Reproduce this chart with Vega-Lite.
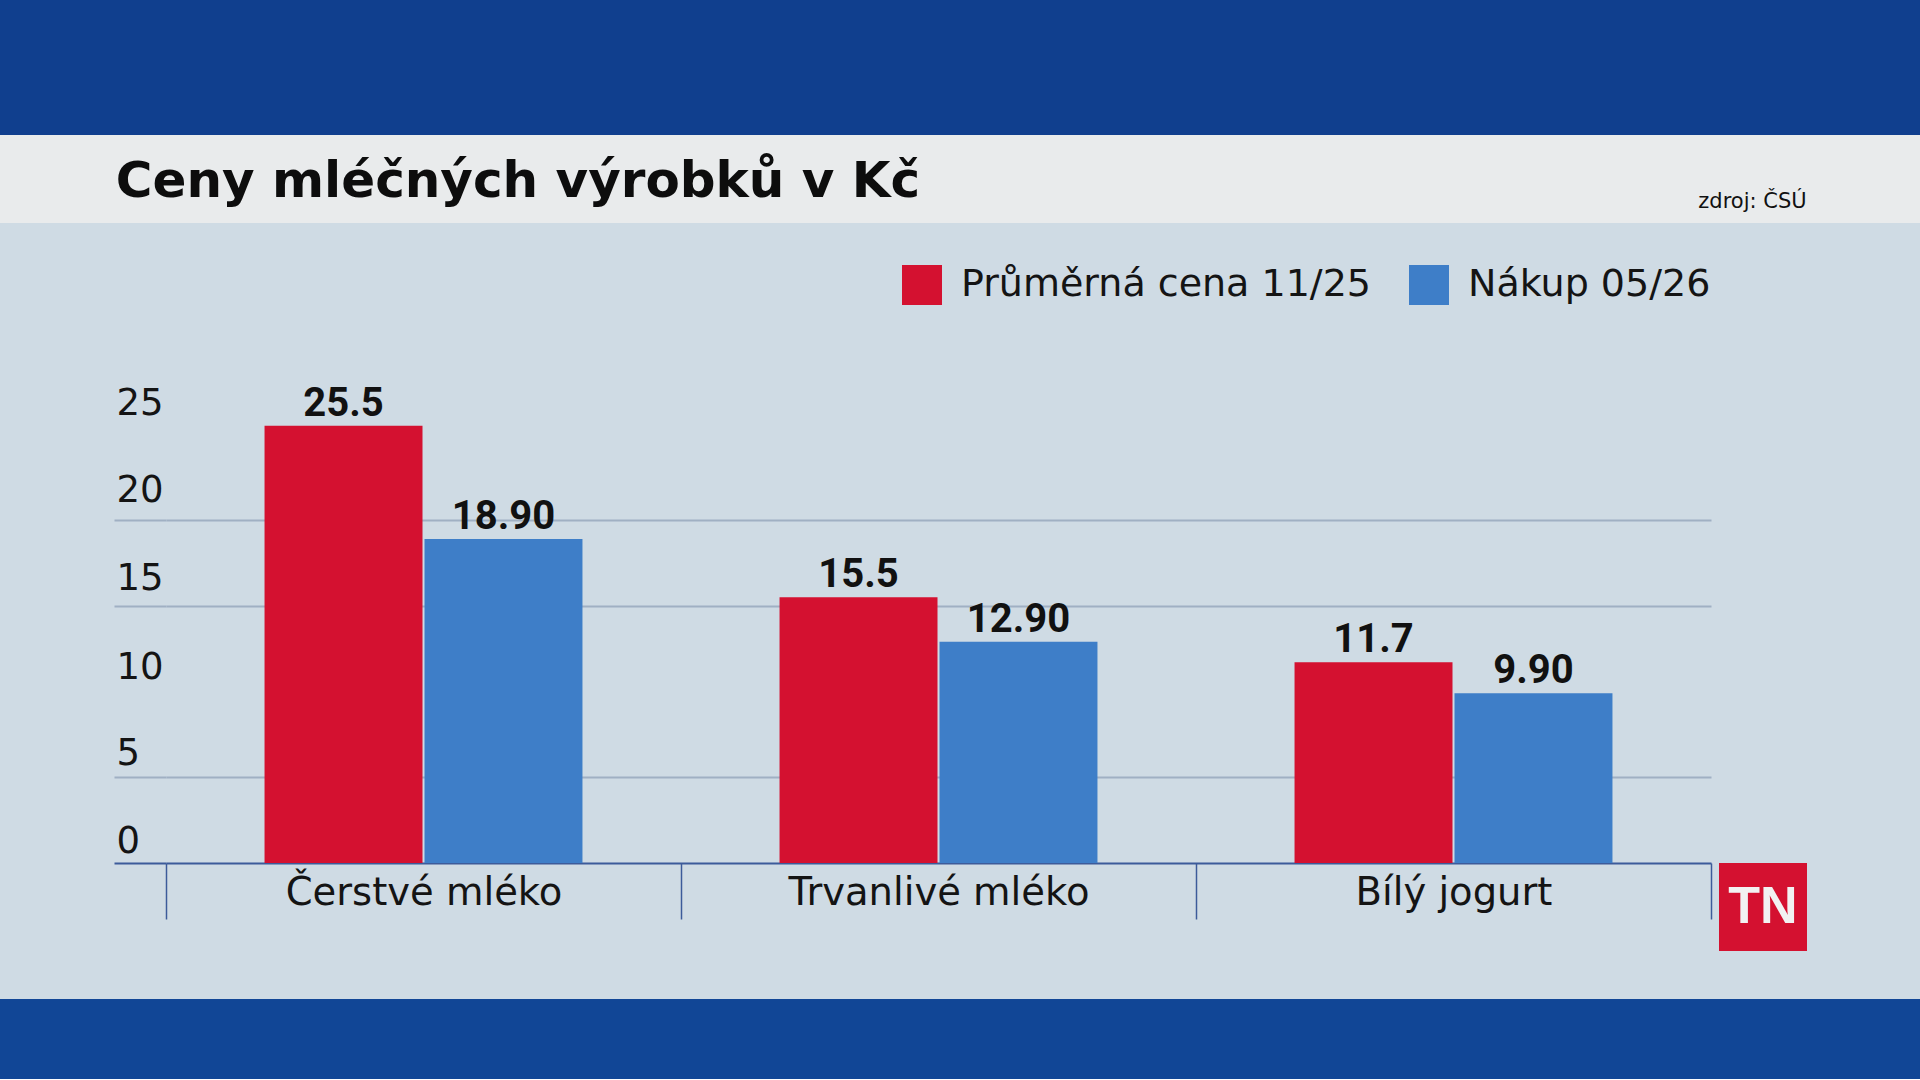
{
  "$schema": "https://vega.github.io/schema/vega-lite/v6.json",
  "background": "#cfdbe4",
  "padding": 0,
  "spacing": 0,
  "config": {
    "view": {"stroke": null},
    "concat": {"spacing": 0},
    "font": "DejaVu Sans"
  },
  "datasets": {
    "prices": [
      {"produkt": "Čerstvé mléko", "rada": "Průměrná cena 11/25", "cena": 25.5},
      {"produkt": "Čerstvé mléko", "rada": "Nákup 05/26", "cena": 18.9},
      {"produkt": "Trvanlivé mléko", "rada": "Průměrná cena 11/25", "cena": 15.5},
      {"produkt": "Trvanlivé mléko", "rada": "Nákup 05/26", "cena": 12.9},
      {"produkt": "Bílý jogurt", "rada": "Průměrná cena 11/25", "cena": 11.7},
      {"produkt": "Bílý jogurt", "rada": "Nákup 05/26", "cena": 9.9}
    ],
    "titles": [{"nadpis": "Ceny mléčných výrobků v Kč", "zdroj": "zdroj: ČSÚ", "logo": "TN"}],
    "blank": [{}]
  },
  "resolve": {"scale": {"color": "independent"}, "legend": {"color": "independent"}},
  "vconcat": [
    {
      "width": 1920, "height": 135,
      "view": {"fill": "#103f8e", "stroke": null},
      "data": {"name": "blank"},
      "mark": {"type": "text", "text": ""}
    },
    {
      "spacing": 0,
      "hconcat": [
        {
          "width": 1036, "height": 88,
          "view": {"fill": "#e9ebec", "stroke": null},
          "data": {"name": "titles"},
          "mark": {"type": "text", "font": "DejaVu Sans", "fontWeight": "bold", "fontSize": 50, "align": "center", "baseline": "alphabetic", "dy": 18, "color": "#0d0d0d"},
          "encoding": {"text": {"field": "nadpis"}}
        },
        {
          "width": 662, "height": 88,
          "view": {"fill": "#e9ebec", "stroke": null},
          "data": {"name": "blank"},
          "mark": {"type": "text", "text": ""}
        },
        {
          "width": 109, "height": 88,
          "view": {"fill": "#e9ebec", "stroke": null},
          "data": {"name": "titles"},
          "mark": {"type": "text", "font": "DejaVu Sans", "fontSize": 21, "align": "center", "baseline": "alphabetic", "dy": 29, "color": "#111111"},
          "encoding": {"text": {"field": "zdroj"}}
        },
        {
          "width": 113, "height": 88,
          "view": {"fill": "#e9ebec", "stroke": null},
          "data": {"name": "blank"},
          "mark": {"type": "text", "text": ""}
        }
      ]
    },
    {
      "spacing": 0,
      "resolve": {"scale": {"color": "independent"}, "legend": {"color": "independent"}},
      "hconcat": [
        {
          "width": 113, "height": 770,
          "data": {"name": "blank"},
          "mark": {"type": "text", "text": ""}
        },
        {
          "spacing": 0,
          "resolve": {"scale": {"color": "independent"}, "legend": {"color": "independent"}},
          "vconcat": [
            {
              "width": 1, "height": 36,
              "data": {"name": "blank"},
              "mark": {"type": "text", "text": ""}
            },
            {
              "width": 1545, "height": 598,
              "data": {"name": "prices"},
              "encoding": {
                "x": {
                  "field": "produkt", "type": "nominal",
                  "sort": ["Čerstvé mléko", "Trvanlivé mléko", "Bílý jogurt"],
                  "scale": {"paddingInner": 0, "paddingOuter": 0},
                  "axis": {
                    "title": null, "domain": false, "grid": false, "tickBand": "extent",
                    "ticks": true, "tickSize": 56, "tickWidth": 1.5, "tickColor": "#3c5b9a",
                    "labelAngle": 0, "labelFont": "DejaVu Sans", "labelFontSize": 38.5, "labelColor": "#141414",
                    "labelBaseline": "alphabetic", "labelPadding": -15, "labelLimit": 0
                  }
                },
                "xOffset": {
                  "field": "rada", "type": "nominal",
                  "sort": ["Průměrná cena 11/25", "Nákup 05/26"],
                  "scale": {"paddingInner": 0.0125, "paddingOuter": 0.616}
                },
                "y": {
                  "field": "cena", "type": "quantitative",
                  "scale": {"domain": [0, 34.87], "nice": false, "zero": true},
                  "axis": {
                    "title": null, "domain": false,
                    "values": [0, 5, 10, 15, 20, 25],
                    "grid": true, "gridWidth": 2,
                    "gridColor": {"condition": {"test": "datum.value === 0", "value": "#3c5b9a"}, "value": "#a0b0c3"},
                    "gridOpacity": {"condition": {"test": "datum.value === 10 || datum.value === 25", "value": 0}, "value": 1},
                    "ticks": true, "tickSize": 52, "tickWidth": 2,
                    "tickColor": {"condition": {"test": "datum.value === 0", "value": "#3c5b9a"}, "value": "#a0b0c3"},
                    "tickOpacity": {"condition": {"test": "datum.value === 10 || datum.value === 25", "value": 0}, "value": 1},
                    "labelAlign": "left", "labelBaseline": "alphabetic", "labelPadding": -2,
                    "labelOffset": {"condition": [
                      {"test": "datum.value >= 25", "value": -20},
                      {"test": "datum.value >= 20", "value": -19},
                      {"test": "datum.value >= 15", "value": -16},
                      {"test": "datum.value >= 5", "value": -13}
                    ], "value": -11},
                    "labelFlush": false, "labelOverlap": false,
                    "labelFont": "DejaVu Sans", "labelFontSize": 37, "labelColor": "#141414", "labelLimit": 0
                  }
                }
              },
              "layer": [
                {
                  "mark": {"type": "bar"},
                  "encoding": {
                    "color": {
                      "field": "rada", "type": "nominal",
                      "sort": ["Průměrná cena 11/25", "Nákup 05/26"],
                      "scale": {"domain": ["Průměrná cena 11/25", "Nákup 05/26"], "range": ["#d41130", "#3e7ec8"]},
                      "legend": {
                        "title": null, "orient": "top-right", "offset": 0, "padding": 0, "direction": "horizontal",
                        "symbolType": "square", "symbolSize": 1600, "symbolStrokeWidth": 0,
                        "labelFont": "DejaVu Sans", "labelFontSize": 38, "labelColor": "#141414",
                        "labelOffset": 19, "columnPadding": 38, "labelLimit": 0
                      }
                    }
                  }
                },
                {
                  "transform": [{"filter": "datum.rada === 'Průměrná cena 11/25'"}],
                  "mark": {"type": "text", "font": "Roboto", "fontWeight": "bold", "fontSize": 40, "baseline": "alphabetic", "dy": -10, "color": "#111111"},
                  "encoding": {"text": {"field": "cena", "type": "quantitative", "format": ".1f"}}
                },
                {
                  "transform": [{"filter": "datum.rada === 'Nákup 05/26'"}],
                  "mark": {"type": "text", "font": "Roboto", "fontWeight": "bold", "fontSize": 40, "baseline": "alphabetic", "dy": -10, "color": "#111111"},
                  "encoding": {"text": {"field": "cena", "type": "quantitative", "format": ".2f"}}
                }
              ]
            }
          ]
        },
        {
          "width": 7, "height": 1,
          "data": {"name": "blank"},
          "mark": {"type": "text", "text": ""}
        },
        {
          "spacing": 0,
          "vconcat": [
            {
              "width": 1, "height": 634,
              "data": {"name": "blank"},
              "mark": {"type": "text", "text": ""}
            },
            {
              "width": 88, "height": 88,
              "view": {"fill": "#d41130", "stroke": null},
              "data": {"name": "titles"},
              "mark": {"type": "text", "font": "Liberation Sans", "fontWeight": "bold", "fontSize": 52, "color": "#f2f2f2", "align": "center", "baseline": "middle"},
              "encoding": {"text": {"field": "logo"}}
            }
          ]
        }
      ]
    },
    {
      "width": 1920, "height": 80,
      "view": {"fill": "#114696", "stroke": null},
      "data": {"name": "blank"},
      "mark": {"type": "text", "text": ""}
    }
  ]
}
